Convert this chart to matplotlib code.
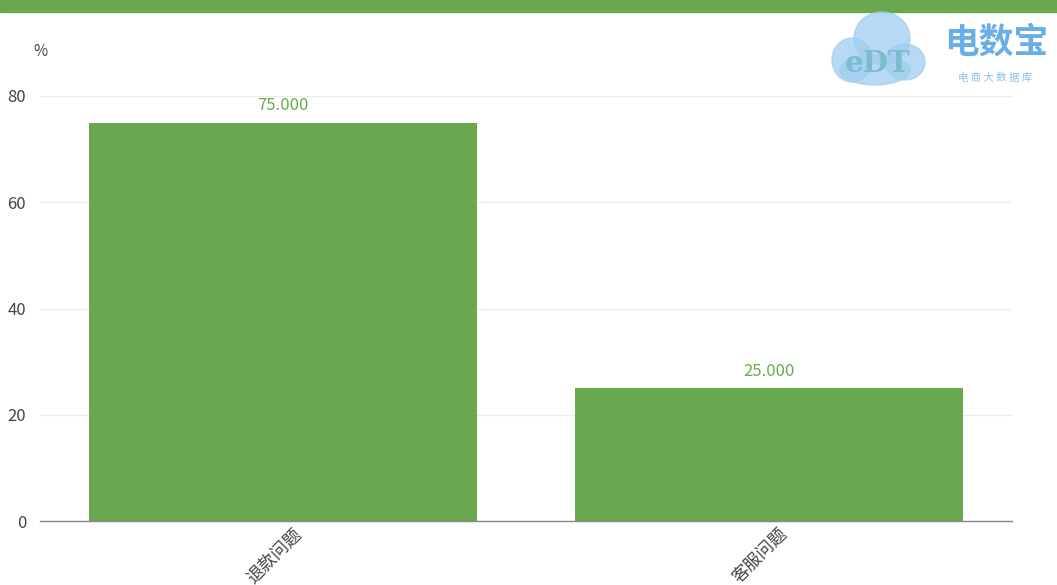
import matplotlib.pyplot as plt
from matplotlib.patches import Rectangle, Ellipse

plt.rcParams['font.family'] = ['Noto Sans CJK SC', 'DejaVu Sans']

categories = ['退款问题', '客服问题']
values = [75.0, 25.0]
yticks = [0, 20, 40, 60, 80]

GREEN = '#6aa84f'
W, H = 1057, 585

fig = plt.figure(figsize=(W / 100, H / 100), dpi=100)
fig.patch.set_facecolor('white')

# green band at top
fig.patches.append(Rectangle((0, 1 - 12 / H), 1, 12 / H, transform=fig.transFigure,
                             color=GREEN, zorder=0))

ax = fig.add_axes([40 / W, 64 / H, 972 / W, 425 / H])
x = list(range(len(categories)))
bars = ax.bar(x, values, width=0.8, color=GREEN, zorder=2)
ax.set_xlim(-0.5, len(categories) - 0.5)
ax.set_ylim(0, 80)
ax.set_yticks(yticks)
ax.set_xticks(x)
ax.set_xticklabels([])
# rotated category labels, anchored slightly right of the tick
for xi, cat in zip(x, categories):
    ax.annotate(cat, (xi, 0), xycoords=('data', 'axes fraction'), xytext=(7, -3),
                textcoords='offset points', rotation=45, ha='right', va='top',
                rotation_mode='anchor', fontsize=12.5, color='#444444',
                annotation_clip=False)
ax.tick_params(axis='x', length=0)
ax.tick_params(axis='y', length=0, pad=10, labelsize=12, labelcolor='#444444')
ax.grid(axis='y', color='#ececec', linewidth=0.8, zorder=0)
for s in ['top', 'right', 'left']:
    ax.spines[s].set_visible(False)
ax.spines['bottom'].set_color('#888888')
ax.spines['bottom'].set_linewidth(1.0)

for b, v in zip(bars, values):
    ax.annotate(f'{v:.3f}', (b.get_x() + b.get_width() / 2, v), xytext=(0, 6),
                textcoords='offset points', ha='center', va='bottom',
                fontsize=12, color='#6aaa4f')

fig.text(40 / W, 1 - 51 / H, '%', ha='center', va='center', fontsize=11, color='#444444')

# logo
cloud = '#9fcdf0'
for cx, cy, w, h in [(882, 38, 56, 52), (852, 60, 40, 44), (905, 62, 40, 36), (875, 70, 70, 30)]:
    fig.patches.append(Ellipse((cx / W, 1 - cy / H), w / W, h / H, transform=fig.transFigure,
                               color=cloud, alpha=0.75, zorder=1))
fig.text(878 / W, 1 - 64 / H, 'eDT', ha='center', va='center', fontsize=21,
         color='#7dbbd0', family='DejaVu Serif', fontweight='bold')
fig.text(996 / W, 1 - 42 / H, '电数宝', ha='center', va='center', fontsize=25,
         color='#6aaee8', fontweight='bold')
fig.text(995 / W, 1 - 78 / H, '电 商 大 数 据 库', ha='center', va='center', fontsize=7.5,
         color='#8ec0ea')

fig.savefig('out.png', dpi=100)
